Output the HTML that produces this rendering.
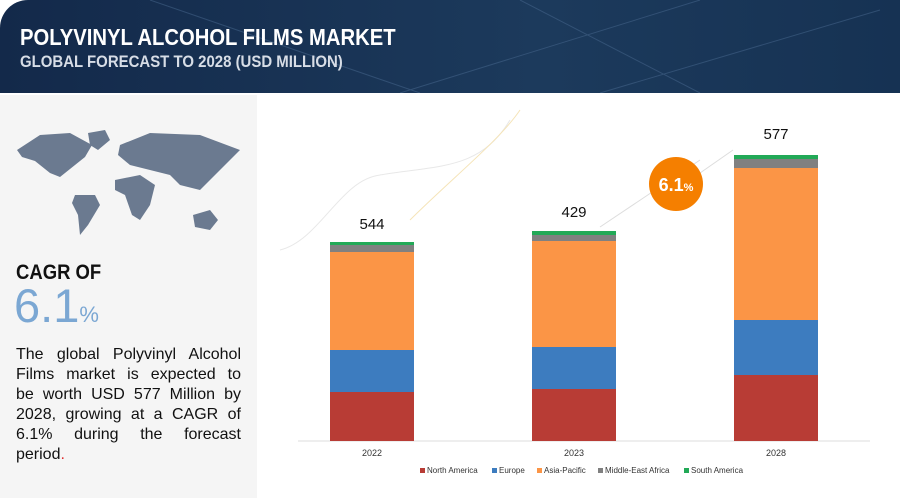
<!DOCTYPE html>
<html><head><meta charset="utf-8"><style>
body{margin:0;width:900px;height:498px;overflow:hidden;background:#fff;font-family:"Liberation Sans",sans-serif;position:relative}
.hdr{position:absolute;left:0;top:0;width:900px;height:93px;background:linear-gradient(90deg,#13294a,#1c3a5c 60%,#163253);border-top-left-radius:28px}
.t1{position:absolute;left:20px;top:24px;color:#fff;font-weight:bold;font-size:23px;transform:scaleX(.88);transform-origin:left}
.t2{position:absolute;left:20px;top:52px;color:#d7dde6;font-weight:bold;font-size:17px;transform:scaleX(.88);transform-origin:left}
.left{position:absolute;left:0;top:95px;width:257px;height:403px;background:#f5f5f5}
.bar{position:absolute;width:84px}
.lbl{position:absolute;font-size:15px;color:#111;width:84px;text-align:center}
.yr{position:absolute;font-size:9px;color:#333;width:84px;text-align:center;top:448px}
.leg{position:absolute;top:466px;font-size:8px;color:#333}
.leg i{display:inline-block;width:5px;height:5px;margin-right:2px}
.p div{text-align:justify;text-align-last:justify;height:20px}
</style></head><body>
<div class="hdr">
<svg width="900" height="93" style="position:absolute;left:0;top:0">
<path d="M150 0 L420 93 M520 0 L700 93 M400 93 L700 0 M600 93 L880 10" stroke="#4a6a90" stroke-width="1" opacity=".5" fill="none"/>
</svg>
<div class="t1">POLYVINYL ALCOHOL FILMS MARKET</div>
<div class="t2">GLOBAL FORECAST TO 2028 (USD MILLION)</div>
</div>
<div class="left">
<svg width="257" height="140" style="position:absolute;left:0;top:0">
<g fill="#6b7a90">
<path d="M17 55 L40 40 L70 38 L92 50 L85 62 L75 70 L60 82 L50 78 L35 66 L22 62Z"/>
<path d="M88 38 L105 35 L110 45 L98 55 L90 50Z"/>
<path d="M75 100 L95 100 L100 110 L88 130 L80 140 L78 120 L72 108Z"/>
<path d="M120 50 L150 38 L200 40 L240 55 L225 70 L210 85 L200 95 L180 90 L170 80 L150 75 L130 70 L118 60Z"/>
<path d="M115 85 L140 80 L155 90 L150 110 L140 125 L132 120 L125 100 L115 95Z"/>
<path d="M193 120 L210 115 L218 125 L210 135 L195 132Z"/>
</g>
<path d="M0 235 C40 145 80 150 120 175 C160 200 190 160 250 160" stroke="#e8c97a" fill="none"/>
</svg>
<div style="position:absolute;left:16px;top:166px;font-weight:bold;font-size:21px;color:#111;transform:scaleX(.88);transform-origin:left">CAGR OF</div>
<div style="position:absolute;left:14px;top:183px;font-size:47px;color:#7ba7d3">6.1<span style="font-size:22px">%</span></div>
<div class="p" style="position:absolute;left:16px;top:250px;width:225px;font-size:16px;line-height:20px;color:#111">
<div>The global Polyvinyl Alcohol</div>
<div>Films market is expected to</div>
<div>be worth USD 577 Million by</div>
<div>2028, growing at a CAGR of</div>
<div>6.1% during the forecast</div>
<div style="text-align-last:left">period<span style="color:#e03030">.</span></div>
</div>
</div>
<svg width="900" height="498" style="position:absolute;left:0;top:0">
<path d="M280 250 C320 240 340 180 380 175 C440 165 480 170 510 120" stroke="#e8e8e8" fill="none"/>
<path d="M410 220 C450 180 500 140 520 110" stroke="#f5e4b8" fill="none"/>
<line x1="600" y1="227" x2="700" y2="160" stroke="#ddd"/>
<line x1="690" y1="180" x2="733" y2="150" stroke="#ddd"/>
<line x1="298" y1="441" x2="870" y2="441" stroke="#ddd"/>
<circle cx="676" cy="184" r="27" fill="#f57f00"/>
<text x="676" y="191" text-anchor="middle" fill="#fff" font-family="Liberation Sans" font-weight="bold" font-size="18">6.1<tspan font-size="11">%</tspan></text>
</svg>
<div class="bar" style="left:330px;top:242px;height:3px;background:#22a957"></div>
<div class="bar" style="left:330px;top:245px;height:7px;background:#808080"></div>
<div class="bar" style="left:330px;top:252px;height:98px;background:#fb9546"></div>
<div class="bar" style="left:330px;top:350px;height:42px;background:#3d7cbf"></div>
<div class="bar" style="left:330px;top:392px;height:49px;background:#b83c35"></div>
<div class="bar" style="left:532px;top:231px;height:4px;background:#22a957"></div>
<div class="bar" style="left:532px;top:235px;height:6px;background:#808080"></div>
<div class="bar" style="left:532px;top:241px;height:106px;background:#fb9546"></div>
<div class="bar" style="left:532px;top:347px;height:42px;background:#3d7cbf"></div>
<div class="bar" style="left:532px;top:389px;height:52px;background:#b83c35"></div>
<div class="bar" style="left:734px;top:155px;height:4px;background:#22a957"></div>
<div class="bar" style="left:734px;top:159px;height:9px;background:#808080"></div>
<div class="bar" style="left:734px;top:168px;height:152px;background:#fb9546"></div>
<div class="bar" style="left:734px;top:320px;height:55px;background:#3d7cbf"></div>
<div class="bar" style="left:734px;top:375px;height:66px;background:#b83c35"></div>
<div class="lbl" style="left:330px;top:216px">544</div>
<div class="lbl" style="left:532px;top:204px">429</div>
<div class="lbl" style="left:734px;top:126px">577</div>
<div class="yr" style="left:330px">2022</div>
<div class="yr" style="left:532px">2023</div>
<div class="yr" style="left:734px">2028</div>
<div class="leg" style="left:420px"><i style="background:#b83c35"></i>North America</div>
<div class="leg" style="left:492px"><i style="background:#3d7cbf"></i>Europe</div>
<div class="leg" style="left:537px"><i style="background:#fb9546"></i>Asia-Pacific</div>
<div class="leg" style="left:598px"><i style="background:#808080"></i>Middle-East Africa</div>
<div class="leg" style="left:684px"><i style="background:#22a957"></i>South America</div>
</body></html>
